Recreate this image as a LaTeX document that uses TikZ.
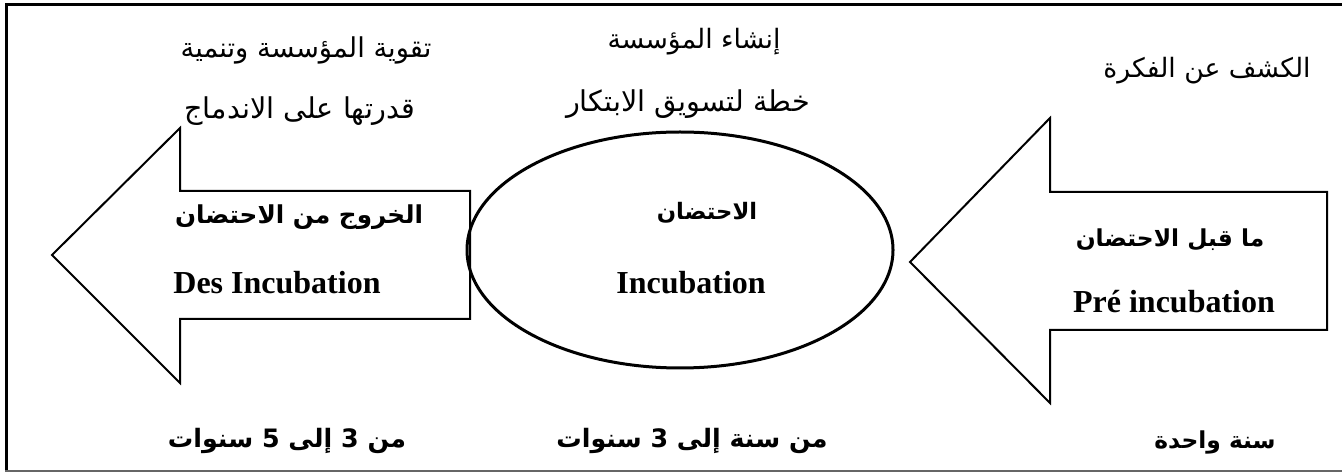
\documentclass[tikz,border=0pt]{standalone}
\usepackage{fontspec}
\TeXXeTstate=1
\newfontfamily\arabicfont[Script=Arabic]{DejaVu Sans}
\newfontfamily\tnr{Liberation Serif}
\begin{document}
\begin{tikzpicture}[x=0.75pt,y=-0.75pt,
  arreg/.style={inner sep=0pt, font=\arabicfont\fontsize{#1}{22}\selectfont},
  arbold/.style={inner sep=0pt, font=\arabicfont\bfseries\fontsize{#1}{22}\selectfont},
  latbold/.style={inner sep=0pt, font=\tnr\bfseries\fontsize{24}{26}\selectfont},
  shape line/.style={line width=1.5pt, line join=miter}]
\useasboundingbox (0,0) rectangle (1342,473);
% frame
\draw[line width=2.25pt] (1342,5) -- (6,5) -- (6,472);
\draw[line width=1.5pt, black!60] (5,471.5) -- (1342,471.5);
% left arrow
\draw[shape line] (52,255) -- (180,128) -- (180,191) -- (470,191) -- (470,319) -- (180,319) -- (180,383) -- cycle;
% ellipse
\draw[line width=2.25pt] (680,250) ellipse [x radius=213, y radius=118];
% right arrow
\draw[shape line] (910,262) -- (1050,118) -- (1050,192) -- (1327,192) -- (1327,330) -- (1050,330) -- (1050,403) -- cycle;
% top texts
\node[arreg=20.5] (t1) at (306,50) {\beginR تقوية المؤسسة وتنمية\endR};
\node[arreg=21.5] (t2) at (300,111) {\beginR قدرتها على الاندماج\endR};
\node[arreg=20] (t3) at (694,42) {\beginR إنشاء المؤسسة\endR};
\node[arreg=21.5] (t4) at (688,104) {\beginR خطة لتسويق الابتكار\endR};
\node[arreg=20] (t5) at (1207,71) {\beginR الكشف عن الفكرة\endR};
% inside
\node[arbold=18.5] (b1) at (299,217) {\beginR الخروج من الاحتضان\endR};
\node[latbold] (l1) at (277,283) {Des Incubation};
\node[arbold=17] (b2) at (707,213) {\beginR الاحتضان\endR};
\node[latbold] (l2) at (691,283) {Incubation};
\node[arbold=17.5] (b3) at (1170,240) {\beginR ما قبل الاحتضان\endR};
\node[latbold] (l3) at (1174,302) {Pré incubation};
% bottom
\node[arbold=19] (y1) at (287,441) {\beginR من 3 إلى 5 سنوات\endR};
\node[arbold=19] (y2) at (692,441) {\beginR من سنة إلى 3 سنوات\endR};
\node[arbold=17.5] (y3) at (1215,442) {\beginR سنة واحدة\endR};
\end{tikzpicture}
\end{document}
